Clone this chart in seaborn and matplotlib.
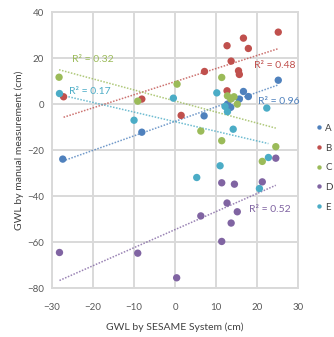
import numpy as np
import pandas as pd
import matplotlib
matplotlib.use("Agg")
import matplotlib.pyplot as plt
import seaborn as sns

# series (x = SESAME, y = manual)
a_x = [-27.4, -8.1, 7.1, 12.8, 13.6, 15.7, 16.7, 17.9, 25.2]
a_y = [-23.9, -12.2, -5.1, 0.0, -1.4, 2.2, 5.5, 3.3, 10.4]
b_x = [-27.2, -8.1, 1.5, 7.2, 12.7, 16.7, 17.9, 13.7, 15.5, 15.7, 12.7, 25.2]
b_y = [3.2, 2.2, -4.9, 14.2, 25.4, 28.7, 24.2, 18.7, 14.5, 12.9, 5.8, 31.3]
c_x = [-28.3, -9.1, 0.5, 11.4, 12.8, 14.4, 13.6, 15.2, 6.3, 11.4, 24.6, 21.3]
c_y = [11.7, 1.3, 8.7, 11.6, 3.6, 3.2, 2.2, 0.0, -11.7, -15.9, -18.5, -24.9]
d_x = [-28.2, -9.1, 0.4, 6.3, 11.4, 14.5, 21.3, 24.6, 12.7, 15.2, 13.7, 11.4]
d_y = [-64.5, -64.8, -75.5, -48.6, -34.2, -34.8, -33.8, -23.5, -43.0, -46.8, -51.7, -59.7]
e_x = [-28.2, -10.0, -0.4, 10.2, 12.2, 12.8, 22.4, 14.2, 22.8, 11.0, 5.3, 20.6]
e_y = [4.6, -7.0, 2.6, 4.9, -1.0, -3.3, -1.7, -10.9, -23.2, -26.8, -31.9, -36.7]

groups = ["A", "B", "C", "D", "E"]
r2_labels = ["R² = 0.96", "R² = 0.48", "R² = 0.32", "R² = 0.52", "R² = 0.17"]
colors = ["#4F81BD", "#C0504D", "#9BBB59", "#8064A2", "#4BACC6"]

df = pd.concat([
    pd.DataFrame({"x": a_x, "y": a_y, "g": "A"}),
    pd.DataFrame({"x": b_x, "y": b_y, "g": "B"}),
    pd.DataFrame({"x": c_x, "y": c_y, "g": "C"}),
    pd.DataFrame({"x": d_x, "y": d_y, "g": "D"}),
    pd.DataFrame({"x": e_x, "y": e_y, "g": "E"}),
])

sns.set_style("white")
plt.rcParams["font.family"] = ["Lato", "DejaVu Sans"]

fig = plt.figure(figsize=(3.34, 3.37), dpi=100)
ax = fig.add_axes([0.156, 0.145, 0.736, 0.819])

pal = dict(zip(groups, colors))
for g in groups:
    sub = df[df.g == g]
    sns.regplot(data=sub, x="x", y="y", ax=ax, scatter=False, ci=None,
                color=pal[g], truncate=True,
                line_kws={"linestyle": (0, (1, 1)), "linewidth": 1.1, "alpha": 0.8})
sns.scatterplot(data=df, x="x", y="y", hue="g", palette=pal, ax=ax,
                s=28, edgecolor="none", zorder=3)

# R² labels
label_pos = [(20.2, 1.3), (19.3, 17), (-25.1, 19.6), (18, -45.6), (-25.9, 5.6)]
for lab, (lx, ly), c in zip(r2_labels, label_pos, colors):
    ax.text(lx, ly, lab, color=c, fontsize=7.5, va="center")

ax.set_xlim(-30, 30)
ax.set_ylim(-80, 40)
ax.set_xticks(range(-30, 31, 10))
ax.set_yticks(range(-80, 41, 20))
ax.grid(True, color="#D9D9D9", linewidth=1.4)
for s in ax.spines.values():
    s.set_color("#D9D9D9")
    s.set_linewidth(1.4)
ax.tick_params(colors="#595959", labelsize=7, length=0)
ax.tick_params(axis="x", pad=11)
ax.tick_params(axis="y", pad=6)
ax.set_xlabel("GWL by SESAME System (cm)", fontsize=7.5, color="#404040", labelpad=7.5)
ax.set_ylabel("GWL by manual measurement (cm)", fontsize=7.5, color="#404040", labelpad=2)

leg = ax.legend(loc="upper left", bbox_to_anchor=(1.043, 0.62), frameon=False,
                fontsize=7, handlelength=0.8, handletextpad=0.2, labelspacing=1.1,
                markerscale=0.6, borderaxespad=0.3)
for t in leg.get_texts():
    t.set_color("#404040")

fig.savefig("out.png", dpi=100)
